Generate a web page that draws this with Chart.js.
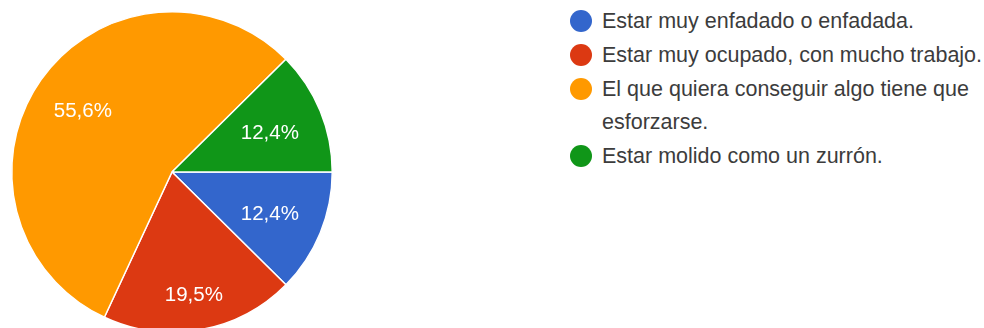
<!DOCTYPE html>
<html>
<head>
<meta charset="utf-8">
<script src="https://cdn.jsdelivr.net/npm/chart.js@4/dist/chart.umd.min.js"></script>
<style>
  html, body { margin: 0; padding: 0; background: #fff; overflow: hidden; }
  body { width: 984px; height: 328px; position: relative; font-family: "Liberation Sans", Arial, sans-serif; }
  #pieBox { position: absolute; left: 0; top: 0; width: 344px; height: 344px; }
  #leyenda { position: absolute; left: 570px; top: 5px; width: 414px; }
  .item { position: relative; padding-left: 32px; font-size: 21.5px; line-height: 33px; color: #3c3c3c; margin-bottom: 1px; white-space: normal; }
  .item .dot { position: absolute; left: 0; top: 5px; width: 22px; height: 22px; border-radius: 50%; }
</style>
</head>
<body>
<div id="pieBox"><canvas id="pie"></canvas></div>
<div id="leyenda"></div>
<script>
var categorias = [
  "Estar muy enfadado o enfadada.",
  "Estar muy ocupado, con mucho trabajo.",
  "El que quiera conseguir algo tiene que esforzarse.",
  "Estar molido como un zurrón."
];
var valores = [12.4, 19.5, 55.6, 12.4];
var etiquetas = ["12,4%", "19,5%", "55,6%", "12,4%"];
var colores = ["#3366cc", "#dc3912", "#ff9900", "#109618"];
var radioEtiqueta = [0.66, 0.77, 0.68, 0.66];

// etiquetas de porcentaje dentro de cada porcion
var pluginEtiquetas = {
  id: 'etiquetas',
  afterDatasetsDraw: function (chart) {
    var ctx = chart.ctx;
    var meta = chart.getDatasetMeta(0);
    ctx.save();
    ctx.fillStyle = "#ffffff";
    ctx.font = '20.5px "Liberation Sans", Arial, sans-serif';
    ctx.textAlign = "center";
    ctx.textBaseline = "middle";
    meta.data.forEach(function (arc, i) {
      var medio = (arc.startAngle + arc.endAngle) / 2;
      var r = arc.outerRadius * radioEtiqueta[i];
      ctx.fillText(etiquetas[i], arc.x + Math.cos(medio) * r, arc.y + Math.sin(medio) * r + 2);
    });
    ctx.restore();
  }
};

new Chart(document.getElementById("pie"), {
  type: 'pie',
  data: {
    labels: categorias,
    datasets: [{
      data: valores,
      backgroundColor: colores,
      borderColor: "#ffffff",
      borderWidth: 1.5
    }]
  },
  options: {
    responsive: true,
    maintainAspectRatio: false,
    animation: false,
    rotation: 90,
    layout: { padding: 11 },
    plugins: {
      legend: { display: false },
      tooltip: { enabled: false }
    }
  },
  plugins: [pluginEtiquetas]
});

// leyenda
var html = "";
for (var i = 0; i < categorias.length; i++) {
  html += '<div class="item"><span class="dot" style="background:' + colores[i] + '"></span>' + categorias[i] + '</div>';
}
document.getElementById("leyenda").innerHTML = html;
</script>
</body>
</html>
